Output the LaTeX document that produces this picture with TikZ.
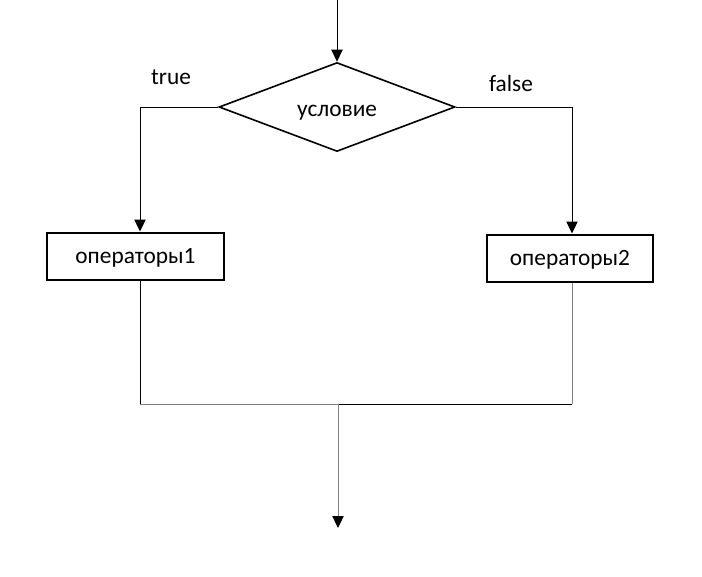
\documentclass[tikz,border=0pt]{standalone}
\usepackage{fontspec}
\setmainfont{Carlito}
\usetikzlibrary{arrows.meta,shapes.geometric}
\tikzset{
  blockbox/.style={draw,line width=1.5pt,minimum width=132.75pt,minimum height=35.25pt,inner sep=0pt,text height=15pt,text depth=3.5pt},
  condbox/.style={draw,diamond,line width=1.2pt,minimum width=177pt,minimum height=66.75pt,inner sep=0pt},
  flow/.style={line width=0.75pt},
  flowgray/.style={line width=0.75pt,draw=gray},
  arr/.style={-{Triangle[length=9pt,width=8.5pt,color=black]}},
  lbl/.style={font=\fontsize{17.5}{20}\selectfont}
}
\begin{document}
\begin{tikzpicture}[x=0.75pt,y=-0.75pt,lbl]
\useasboundingbox (0,0) rectangle (702,576);
% condition
\node[condbox] (cond) at (337,107) {};
\node[text height=14pt,text depth=3.5pt] (condtext) at (337,109) {условие};
\coordinate (top) at (337,0);
\draw[flow,arr] (top) -- (cond.north);
% branches
\node[blockbox] (op1) at (135.5,256) {операторы1};
\node[blockbox,minimum width=124.5pt] (op2) at (570,258) {операторы2};
\node (true) at (171,77) {true};
\node (false) at (511,83) {false};
% merge points
\coordinate (mleft) at (140,404);
\coordinate (mright) at (572,404);
\coordinate (mid) at (338,404);
\coordinate (out) at (338,528);
\draw[flow,arr] (cond.west) -| (mleft |- op1.north);
\draw[flow,arr] (cond.east) -| (mright |- op2.north);
\draw[flow] (op1.south -| mleft) -- (mleft) -- (mright);
\draw[flowgray] (mleft) -- (mid);
\draw[flowgray] (op2.south -| mright) -- (mright);
\draw[flowgray,arr] (mid) -- (out);
\end{tikzpicture}
\end{document}
